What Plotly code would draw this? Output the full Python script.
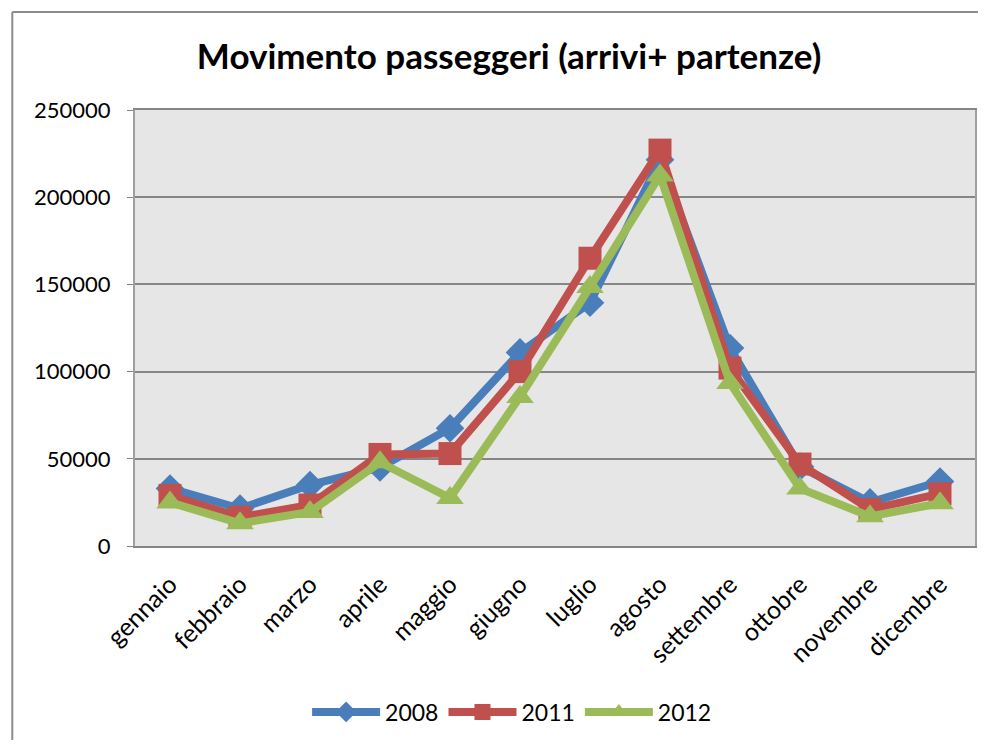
import plotly.graph_objects as go

mesi = ["gennaio", "febbraio", "marzo", "aprile", "maggio", "giugno",
        "luglio", "agosto", "settembre", "ottobre", "novembre", "dicembre"]

anno_2008 = [33000, 21500, 35000, 45000, 67500, 111000, 139500, 221500, 113500, 45500, 25000, 37000]
anno_2011 = [29000, 16500, 23500, 52500, 53000, 100000, 165000, 227000, 102000, 47000, 21000, 30000]
anno_2012 = [25000, 13000, 19500, 48000, 27500, 85500, 148500, 212500, 93500, 33000, 17000, 24500]

serie = [
    ("2008", anno_2008, "#4a7ebb", "diamond", 22),
    ("2011", anno_2011, "#c0504d", "square", 23),
    ("2012", anno_2012, "#9bbb59", "triangle-up", 24),
]

fig = go.Figure()
for nome, valori, colore, simbolo, dim in serie:
    fig.add_trace(go.Scatter(
        x=mesi, y=valori, name=nome, mode="lines+markers",
        line=dict(color=colore, width=8),
        marker=dict(symbol=simbolo, size=dim, color=colore),
    ))

fnt = "Lato, 'Open Sans', sans-serif"

# la pagina ha 8px di margine: l'area del grafico va da x=135 a 977, y=110 a 546
def px(x):
    return (x - 135) / 842

def py(y):
    return (546 - y) / 436

# bordo del riquadro
shapes = [
    dict(type="line", xref="paper", yref="paper",
         x0=px(12), x1=px(12), y0=py(760), y1=py(12),
         line=dict(color="#8c8c8c", width=2)),
    dict(type="line", xref="paper", yref="paper",
         x0=px(12), x1=px(1000), y0=py(12), y1=py(12),
         line=dict(color="#8c8c8c", width=2)),
]

fig.update_layout(
    width=970, height=732,
    margin=dict(l=127, r=1, t=102, b=194),
    paper_bgcolor="white",
    plot_bgcolor="#e6e6e6",
    font=dict(family=fnt, color="black"),
    title=dict(text="<b>Movimento passeggeri (arrivi+ partenze)</b>",
               x=px(510), xref="paper", xanchor="center",
               y=1 - (57 - 8) / 732, yanchor="middle",
               font=dict(size=35, family=fnt)),
    showlegend=True,
    legend=dict(orientation="h", x=px(513), xanchor="center", y=py(712), yanchor="middle",
                font=dict(size=23), itemwidth=68),
    shapes=shapes,
)

fig.update_xaxes(
    tickangle=-45, tickfont=dict(size=25), ticklabelstandoff=12,
    showline=True, linecolor="#868686", linewidth=2, mirror=True,
    showgrid=False, ticks="", range=[-0.5, 11.5],
)
fig.update_yaxes(
    range=[0, 250000], dtick=50000, tickformat="d",
    tickfont=dict(size=22), ticklabelstandoff=12,
    showgrid=True, gridcolor="#868686", gridwidth=2,
    showline=True, linecolor="#a0a0a0", linewidth=2, mirror=True,
    ticks="outside", ticklen=6, tickcolor="#868686", zeroline=False,
)

fig.write_html("out.html")
